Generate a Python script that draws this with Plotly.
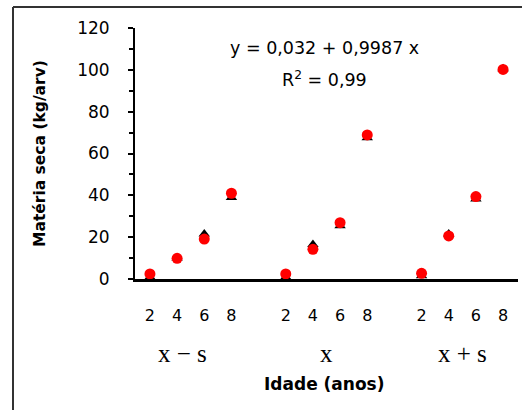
import plotly.graph_objects as go

# Age classes (years) inside each diameter group
ages = ["2", "4", "6", "8"]
groups = ["x \u2212 s", "x", "x + s"]

# Slot positions on the category axis (one empty slot pair between groups)
positions = [1, 2, 3, 4, 6, 7, 8, 9, 11, 12, 13, 14]
group_centers = [2.2, 7.5, 12.5]

# Dry matter (kg/tree): observed (triangles) and estimated (circles)
observed = [1.0, 10.0, 21.5, 39.0, 1.0, 16.5, 25.5, 67.5, 1.5, 21.5, 38.3, 100.5]
estimated = [2.4, 9.9, 19.1, 41.0, 2.4, 14.2, 26.9, 68.9, 2.7, 20.6, 39.4, 100.2]

W, H = 531, 410
L, R, T, B = 135, 13, 28, 131
pw, ph = W - L - R, H - T - B


def px(x):
    return (x - L) / pw


def py(y):
    return (H - B - y) / ph


SANS = "DejaVu Sans, Arial, sans-serif"
SERIF = "Liberation Serif, Times New Roman, serif"

fig = go.Figure()
fig.add_trace(go.Scatter(
    x=positions, y=observed, mode="markers",
    marker=dict(symbol="triangle-up", size=10, color="black"),
    showlegend=False, cliponaxis=False,
))
fig.add_trace(go.Scatter(
    x=positions, y=estimated, mode="markers",
    marker=dict(symbol="circle", size=11, color="#ff0000"),
    showlegend=False, cliponaxis=False,
))


def label(text, x, y, size, family=SANS, xref="paper", angle=0):
    return dict(text=text, x=x, y=y, xref=xref, yref="paper", showarrow=False,
                xanchor="center", yanchor="middle", textangle=angle,
                font=dict(family=family, size=size, color="black"))


annotations = [
    label("y = 0,032 + 0,9987 x", px(324), py(48), 17.5),
    label("R<sup>2</sup> = 0,99", px(324), py(79), 17.5),
    label("<b>Idade (anos)</b>", px(324), py(384), 17),
    label("<b>Matéria seca (kg/arv)</b>", px(40), py(154), 15.5, angle=-90),
]
for g, c in zip(groups, group_centers):
    annotations.append(label(g, c, py(353), 25, family=SERIF, xref="x"))

shapes = [
    dict(type="line", xref="paper", yref="paper", x0=px(13), x1=px(522), y0=py(7), y1=py(7),
         line=dict(color="#333333", width=2)),
    dict(type="line", xref="paper", yref="paper", x0=px(13), x1=px(13), y0=py(7), y1=py(410),
         line=dict(color="#333333", width=2)),
]

fig.update_layout(
    width=W, height=H,
    margin=dict(l=L, r=R, t=T, b=B, pad=0),
    paper_bgcolor="white", plot_bgcolor="white",
    annotations=annotations, shapes=shapes,
    xaxis=dict(
        range=[0.45, 14.55], showgrid=False, zeroline=False,
        showline=True, linecolor="black", linewidth=2.5,
        tickvals=positions, ticktext=ages * 3, ticks="",
        ticklabelstandoff=20,
        tickfont=dict(family=SANS, size=16, color="black"),
    ),
    yaxis=dict(
        range=[0, 120], showgrid=False, zeroline=False,
        showline=True, linecolor="black", linewidth=2,
        tickvals=[0, 20, 40, 60, 80, 100, 120],
        ticks="outside", ticklen=5, tickwidth=2, tickcolor="black",
        minor=dict(tickvals=[10, 30, 50, 70, 90, 110], ticks="outside",
                   ticklen=4, tickwidth=2, tickcolor="black"),
        ticklabelstandoff=15,
        tickfont=dict(family=SANS, size=17, color="black"),
    ),
)

fig.write_html("out.html")
